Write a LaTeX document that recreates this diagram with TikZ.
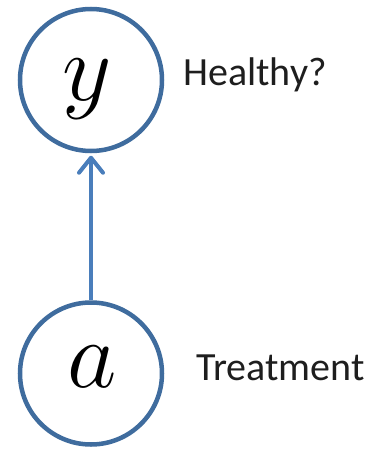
\RequirePackage{fix-cm}
\documentclass[tikz,border=0pt]{standalone}
\usepackage{fontspec}
\newfontfamily\labelfont{Carlito}
\usetikzlibrary{arrows.meta}

\definecolor{nodeblue}{RGB}{63,108,158}
\definecolor{edgeblue}{RGB}{74,126,187}
\definecolor{labelgray}{RGB}{30,30,30}

\tikzset{
  var/.style={circle, draw=nodeblue, line width=4.5pt, minimum size=142pt, inner sep=0pt},
  letter/.style={inner sep=0pt, font=\fontsize{96}{96}\selectfont},
  caption/.style={anchor=base west, inner sep=0pt, text=labelgray, font=\labelfont\fontsize{40}{40}\selectfont},
  edge/.style={draw=edgeblue, line width=4pt,
    -{Straight Barb[length=15pt, width=24pt, line cap=round, line join=round]}, shorten >=2.5pt}
}

\begin{document}
\begin{tikzpicture}[x=1pt, y=-1pt]
  \useasboundingbox (0,0) rectangle (370,452);

  % outcome and treatment variables
  \node[var] (y) at (91,80) {};
  \node[var] (a) at (91,373.5) {};
  \node[letter] (ylet) at (87,89) {$y$};
  \node[letter] (alet) at (92,366.5) {$a$};

  % side captions
  \node[caption] (ycap) at (183,85) {Healthy?};
  \node[caption] (acap) at (196,380) {Treatment};

  % causal edge
  \draw[edge] (a.north) -- (y.south);
\end{tikzpicture}
\end{document}
